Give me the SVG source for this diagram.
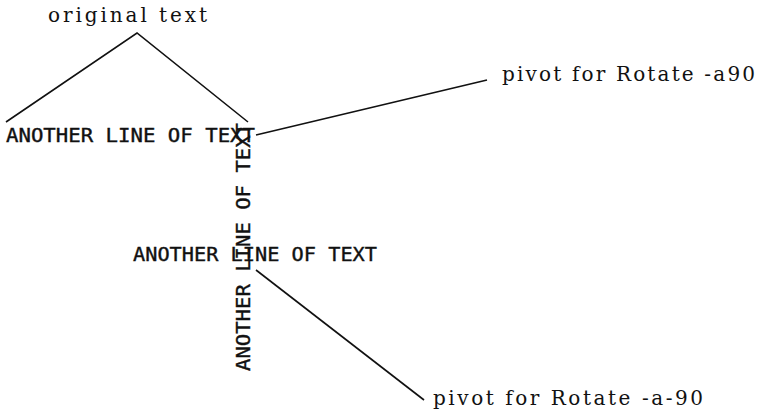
<svg xmlns="http://www.w3.org/2000/svg" width="759" height="417" viewBox="0 0 759 417">
<style>
.lbl{font-family:"DejaVu Serif","Liberation Serif",serif;font-size:20px;fill:#111}
.big{font-family:"DejaVu Sans Mono","Liberation Mono",monospace;font-size:20px;fill:#111;stroke:#111;stroke-width:0.4}
.ln{stroke:#111;stroke-width:1.6;fill:none}
</style>
<rect width="759" height="417" fill="#fff"/>
<g id="connectors">
<polyline class="ln" points="6,122 137,33 248,122"/>
<line class="ln" x1="256" y1="135" x2="487" y2="80"/>
<line class="ln" x1="256" y1="270" x2="424" y2="400"/>
</g>
<g id="original"><text class="lbl" x="48" y="22" textLength="159" lengthAdjust="spacing">original text</text></g>
<g id="line1"><text class="big" x="6" y="142" textLength="249" lengthAdjust="spacingAndGlyphs">ANOTHER LINE OF TEXT</text></g>
<g id="pivot1"><text class="lbl" x="502" y="81" textLength="253" lengthAdjust="spacing">pivot for Rotate -a90</text></g>
<g id="line2"><text class="big" x="133" y="261" textLength="244" lengthAdjust="spacingAndGlyphs">ANOTHER LINE OF TEXT</text></g>
<g id="vertical"><text class="big" x="250" y="371" transform="rotate(-90 250 371)" textLength="248" lengthAdjust="spacingAndGlyphs">ANOTHER LINE OF TEXT</text></g>
<g id="pivot2"><text class="lbl" x="433" y="405" textLength="270" lengthAdjust="spacing">pivot for Rotate -a-90</text></g>
</svg>
